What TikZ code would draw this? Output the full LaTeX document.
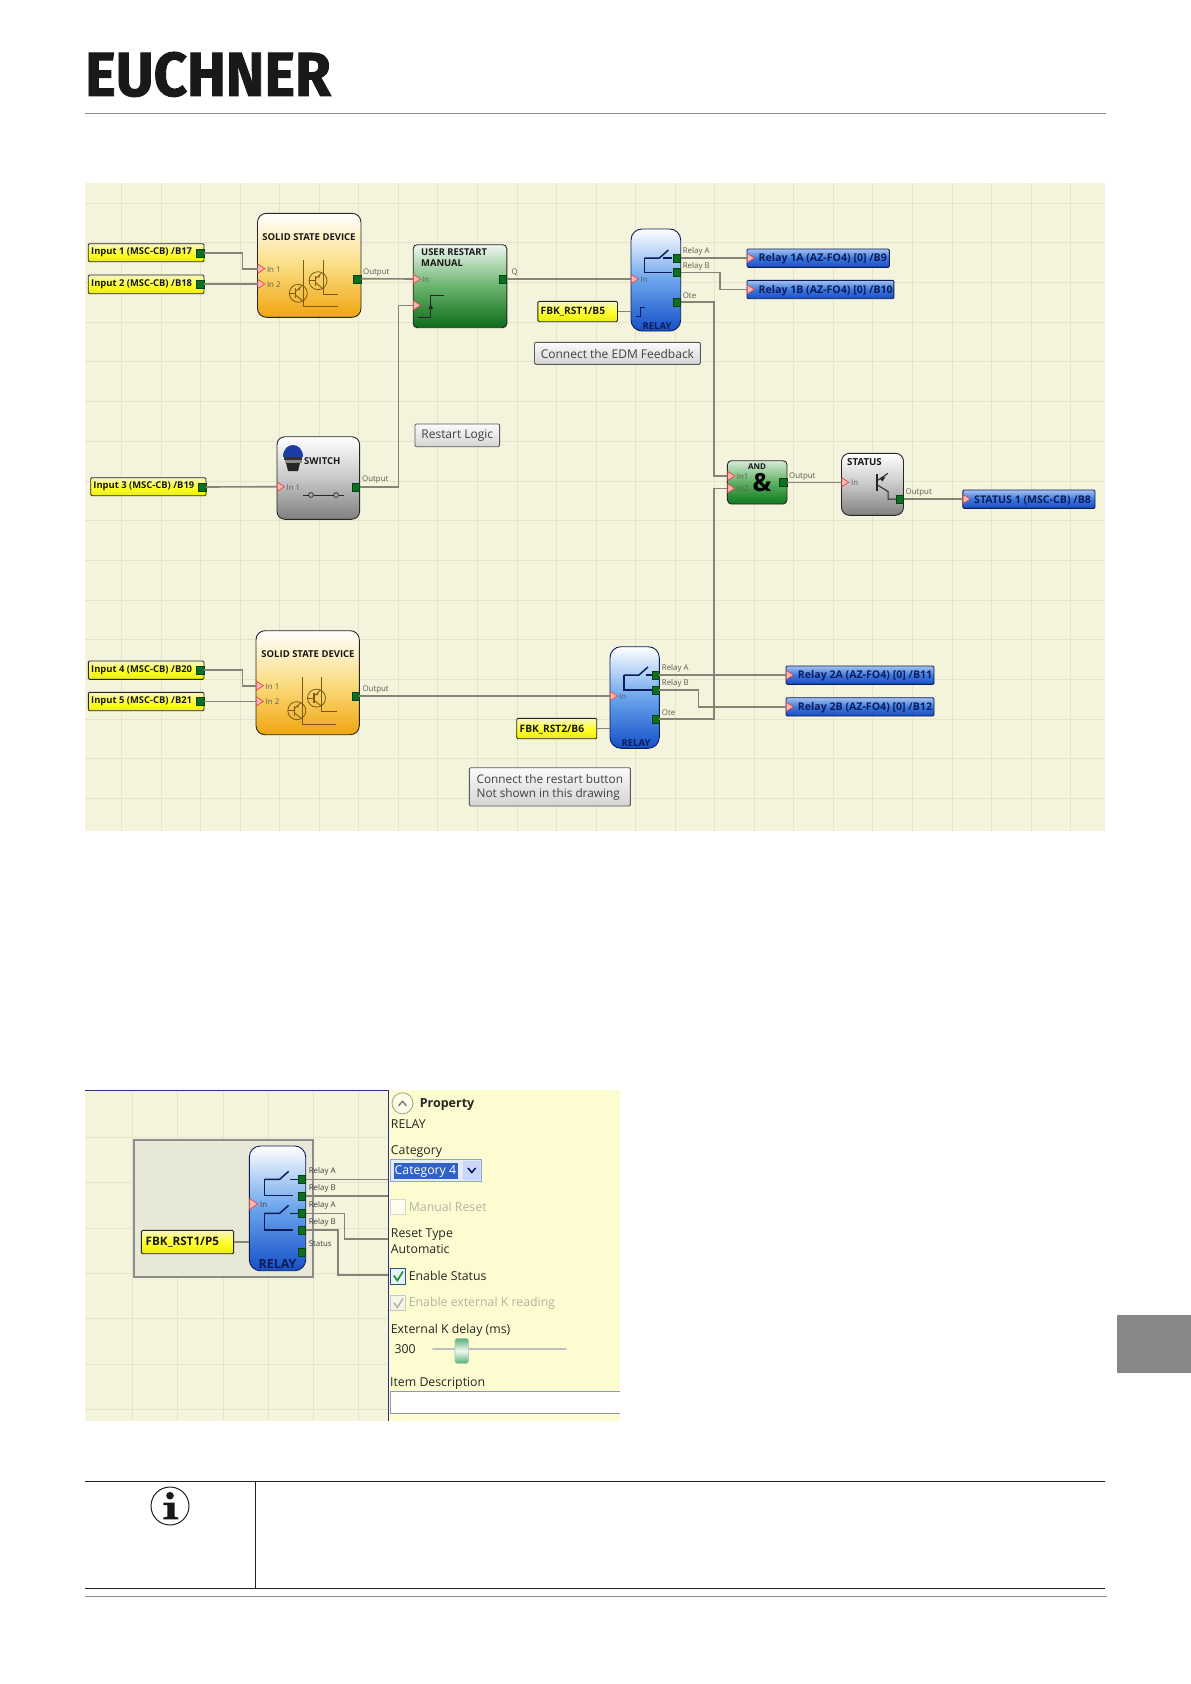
\documentclass[tikz,border=0pt]{standalone}
\usepackage{fontspec}
\usetikzlibrary{shapes.geometric}
\setmainfont{Open Sans}
\newfontfamily\logofont[BoldFeatures={FakeBold=1.5}]{Fira Sans}
\definecolor{panelbg}{HTML}{F4F3DC}
\definecolor{gridc}{HTML}{E4E3CE}
\definecolor{propbg}{HTML}{FDFBD0}
\definecolor{wirec}{HTML}{84847A}
\definecolor{portc}{HTML}{0E6E22}
\definecolor{navyc}{HTML}{0C1C58}
\definecolor{labc}{HTML}{5C5C52}
\definecolor{disc}{HTML}{B4B4A4}
\definecolor{framec}{HTML}{30307A}
\newcommand\hexc[1]{\definecolor{#1}{HTML}{#1}}
\hexc{F0A510}\hexc{FBDD82}\hexc{1650C8}\hexc{6AA4EC}\hexc{EEF6F0}\hexc{0C6C18}\hexc{6AB46C}\hexc{D6EBD8}\hexc{0C7A1E}\hexc{5EB062}
\hexc{808080}\hexc{C8C8C8}\hexc{F6F6C8}\hexc{ECEC10}\hexc{FFFF30}\hexc{A4C2F0}\hexc{1A4CC0}\hexc{3C78E0}\hexc{FBFBFB}\hexc{D4D4D4}
\hexc{E8E8D6}\hexc{E04848}\hexc{FFB8B8}\hexc{7C5A10}\hexc{1C3CA8}\hexc{A8A890}\hexc{FEFDE8}\hexc{8CA4D8}\hexc{E4ECFA}\hexc{2F62C4}
\hexc{C8D8F4}\hexc{D8D8D0}\hexc{FEFDEC}\hexc{30508C}\hexc{E8F4F0}\hexc{1E9A3C}\hexc{C8C8C0}\hexc{F6F6E8}\hexc{B4B4A8}\hexc{A8C8B0}
\hexc{58B078}\hexc{F4F8F4}\hexc{8C9CB0}
\newcounter{lblc}
\newcommand\bx[6][]{%
  \pgfmathsetmacro\bxcx{(#3+#5)/2}\pgfmathsetmacro\bxcy{(#4+#6)/2}%
  \pgfmathsetmacro\bxw{#5-#3}\pgfmathsetmacro\bxh{#6-#4}%
  \node[#1,minimum width=\bxw pt,minimum height=\bxh pt] (#2) at (\bxcx,\bxcy) {};}
\newcommand\lbl[4]{\stepcounter{lblc}\node[#1] (lbl\arabic{lblc}) at (#2,#3) {#4};}
\newcommand\zwire[3]{\draw[wire] (#1) -- (#1 -| #2) -- (#2 |- #3) -- (#3);}
\newcommand\hwire[2]{\draw[wire] (#1) -- (#1 -| #2);}
\newcommand\ttrans[2]{\begin{scope}[shift={(#1,#2)},symssd]
  \draw (0,0) circle (9);
  \draw[line width=1.2pt] (-2.5,-5) -- (-2.5,5);
  \draw (-9,0) -- (-2.5,0);
  \draw (-2.5,-2) -- (4,-8);
  \draw (-2.5,2) -- (5,8);
  \fill[fill opacity=1] (0,-4.2) -- (2.2,-5.4) -- (1,-2.6) -- cycle;
\end{scope}}
\newcommand\ssdsym[2]{\begin{scope}[shift={(#1,#2)}]
  \ttrans{40.8}{80}\ttrans{60.5}{67.4}
  \draw[symssd] (46.2,46.7) -- (46.2,93.4) -- (80.2,93.4);
  \draw[symssd] (65.5,46.7) -- (65.5,81) -- (80.5,81);
\end{scope}}
\newcommand\relsym[3]{\begin{scope}[shift={(#1,#2)}]
  \draw[symrel,line join=round] (0,0) -- (15,0) -- (24,-8);
  \draw[symrel] (0,0) -- (0,#3) -- (28,#3);
\end{scope}}
\tikzset{
  blockbase/.style={draw=black!85,line width=.9pt,rounded corners=6.5pt,inner sep=0pt},
  ssdbox/.style={blockbase,rounded corners=9pt,top color=white,bottom color=F0A510,middle color=FBDD82},
  relbox/.style={blockbase,rounded corners=11pt,draw=navyc,top color=white,bottom color=1650C8,middle color=6AA4EC},
  grnbox/.style={blockbase,rounded corners=4pt,top color=EEF6F0,bottom color=0C6C18,middle color=6AB46C},
  andbox/.style={blockbase,rounded corners=4pt,top color=D6EBD8,bottom color=0C7A1E,middle color=5EB062},
  graybox/.style={blockbase,rounded corners=8pt,top color=white,bottom color=808080,middle color=C8C8C8},
  inbox/.style={draw=black!85,line width=.9pt,rounded corners=1.2pt,inner sep=0pt,top color=F6F6C8,bottom color=ECEC10,middle color=FFFF30},
  outbox/.style={draw=navyc,line width=.9pt,rounded corners=1.2pt,inner sep=0pt,top color=A4C2F0,bottom color=1A4CC0,middle color=3C78E0},
  notebox/.style={draw=black!65,line width=.9pt,rounded corners=1.2pt,inner sep=0pt,top color=FBFBFB,bottom color=D4D4D4},
  selbox/.style={draw=black!45,line width=2.2pt,fill=E8E8D6,inner sep=0pt},
  wire/.style={draw=wirec,line width=1.6pt},
  oport/.style={draw=portc!60!black,line width=.4pt,fill=portc,inner sep=0pt,minimum width=7.5pt,minimum height=8pt},
  iport/.style={isosceles triangle,isosceles triangle apex angle=70,isosceles triangle stretches,draw=E04848,line width=.7pt,fill=FFB8B8,inner sep=0pt,minimum height=7pt,minimum width=9pt,anchor=west},
  symssd/.style={draw=7C5A10,line width=.8pt,fill=7C5A10,fill opacity=0},
  symrel/.style={draw=navyc,line width=1.5pt},
  symdark/.style={draw=black!85,line width=1pt},
  tiolab/.style={anchor=west,inner sep=0pt,yshift=-1pt,font=\fontsize{9.4}{11}\selectfont\bfseries,text=black!90},
  tfbk/.style={tiolab,font=\fontsize{10.2}{11}\selectfont\bfseries},
  toutlab/.style={anchor=west,inner sep=0pt,yshift=-1pt,font=\fontsize{10.6}{12}\selectfont\bfseries,text=navyc},
  ttitle/.style={inner sep=0pt,yshift=-1pt,font=\fontsize{9.5}{11}\selectfont\bfseries,text=black!90},
  tsmall/.style={anchor=west,inner sep=0pt,yshift=-.5pt,font=\fontsize{7.9}{9}\selectfont,text=labc},
  tnote/.style={inner sep=0pt,yshift=-.5pt,font=\fontsize{12}{14}\selectfont,text=black!75},
  tnoteb/.style={tnote,align=left},
  tprop/.style={anchor=west,inner sep=0pt,yshift=-1pt,font=\fontsize{12.3}{14}\selectfont,text=black!85},
  tdis/.style={tprop,text=disc},
}
\begin{document}
\begin{tikzpicture}[x=1pt,y=-1pt]
\useasboundingbox (0,0) rectangle (1191,1684);
% header and footer
\node[anchor=north west,inner sep=0pt,text=black!90] (logo) at (85,51.7) {\resizebox{245.7pt}{44pt}{\logofont\bfseries EUCHNER}};
\coordinate (hl) at (85,113.3); \coordinate (hr) at (1106,113.3);
\draw[black!45,line width=1pt] (hl) -- (hr);
% upper panel
\fill[panelbg] (85,183.3) rectangle (1105,830.7);
\begin{scope}
\clip (85,183.3) rectangle (1105,830.7);
\foreach \i in {0,...,25} \draw[gridc,line width=.8pt] (121.4+39.55*\i,183.3) -- (121.4+39.55*\i,830.7);
\foreach \i in {0,...,15} \draw[gridc,line width=.8pt] (85,203+39.7*\i) -- (1105,203+39.7*\i);
\end{scope}
% upper blocks
\bx[ssdbox]{ssda}{257.5}{213.3}{361}{317.3}
\bx[grnbox]{usr}{413.2}{244.7}{506.8}{327.7}
\bx[relbox]{rela}{631}{229}{680.7}{331}
\bx[graybox]{swt}{277}{436.7}{359.6}{519.3}
\bx[andbox]{andg}{727.4}{460.7}{787}{504}
\bx[graybox]{stat}{841.5}{453.3}{903.5}{515.3}
\bx[ssdbox]{ssdb}{256}{630.7}{359.3}{734.7}
\bx[relbox]{relb}{610}{646.7}{659.3}{748.3}
\bx[inbox]{ina}{88.2}{243.7}{204}{261.7}
\bx[inbox]{inb}{88.2}{275}{204}{293.7}
\bx[inbox]{inc}{90.7}{477.7}{206}{495.7}
\bx[inbox]{ind}{88.3}{661}{204}{679.3}
\bx[inbox]{ine}{88.3}{692.3}{204}{710.7}
\bx[inbox]{fbka}{537.9}{301.3}{617.5}{321.7}
\bx[inbox]{fbkb}{516.7}{718.3}{596.7}{738.7}
\bx[outbox]{oa}{747}{249}{889.3}{267.3}
\bx[outbox]{ob}{747}{280.3}{893.9}{298.7}
\bx[outbox]{oc}{786}{666}{934}{684.3}
\bx[outbox]{od}{786}{697.7}{934}{716}
\bx[outbox]{oe}{962.8}{490}{1095}{508.3}
\bx[notebox]{nedm}{534.5}{342.3}{700.3}{364.3}
\bx[notebox]{nres}{415}{424}{499.6}{446.7}
\bx[notebox]{nbtn}{469.3}{767.7}{630.3}{806}
% block symbols
\ssdsym{257.5}{213.3}
\ssdsym{256}{630.7}
\draw[symdark] (417.5,317.3) -- (430.7,317.3) -- (430.7,295.7) -- (444.3,295.7);
\fill[black!85] (430.7,304) -- (433,309) -- (428.4,309) -- cycle;
\relsym{644.4}{258}{14.3}
\draw[symrel] (663,258) -- (672,258);
\relsym{624}{675}{15}
\draw[symrel] (646,675) -- (652,675);
\draw[symdark,draw=navyc] (636,316) -- (640.5,316) -- (640.5,307) -- (645,307);
% switch details
\fill[1C3CA8] (283.4,456.7) .. controls (283.4,441) and (302.6,441) .. (302.6,456.7) -- cycle;
\fill[black!80] (283.6,456.7) rectangle (302.4,460);
\fill[black!45] (284.5,460) rectangle (301.5,463);
\fill[black!85] (286,463) -- (300,463) -- (298,471) -- (288,471) -- cycle;
\draw[symdark,line width=.7pt] (303,495) -- (308.7,495) (313.5,495) -- (333.5,495) (338.5,495) -- (344,495);
\draw[black!85,line width=.7pt] (311,495) circle (2.4) (336,495) circle (2.4);
% status symbol
\draw[black!85,line width=1.6pt] (876.7,474) -- (876.7,490.7);
\draw[black!85,line width=1pt] (876.7,481) -- (888,473.3);
\fill[black!85] (880,478.8) -- (885.5,476.5) -- (882.5,481.5) -- cycle;
\draw[black!85,line width=1pt] (876.7,484.5) -- (888,491.5) -- (888,499) -- (896,499);
\node[inner sep=0pt,font=\fontsize{25}{25}\selectfont\bfseries,text=black] (amp) at (762,483) {\&};
% titles
\lbl{ttitle}{309}{235.7}{SOLID STATE DEVICE}
\lbl{ttitle}{308}{652.7}{SOLID STATE DEVICE}
\lbl{ttitle,anchor=west}{304}{460}{SWITCH}
\lbl{ttitle,anchor=north west,align=left,font=\fontsize{9.4}{11.8}\selectfont\bfseries}{421}{247}{USER RESTART\\MANUAL}
\lbl{ttitle,text=navyc}{657}{325}{RELAY}
\lbl{ttitle,text=navyc}{636}{741.7}{RELAY}
\lbl{ttitle,font=\fontsize{8}{9}\selectfont\bfseries}{757}{466}{AND}
\lbl{ttitle,anchor=west,font=\fontsize{9.7}{11}\selectfont\bfseries}{847}{461}{STATUS}
% input / output texts
\lbl{tiolab}{91}{251.7}{Input 1 (MSC-CB) /B17}
\lbl{tiolab}{91}{283.3}{Input 2 (MSC-CB) /B18}
\lbl{tiolab}{93.2}{485.7}{Input 3 (MSC-CB) /B19}
\lbl{tiolab}{91}{669}{Input 4 (MSC-CB) /B20}
\lbl{tiolab}{91}{700.3}{Input 5 (MSC-CB) /B21}
\lbl{tfbk}{540.5}{311}{FBK\_RST1/B5}
\lbl{tfbk}{519.5}{728.5}{FBK\_RST2/B6}
\lbl{toutlab}{758.4}{258}{Relay 1A (AZ-FO4) [0] /B9}
\lbl{toutlab}{758.4}{289.5}{Relay 1B (AZ-FO4) [0] /B10}
\lbl{toutlab}{797.7}{675}{Relay 2A (AZ-FO4) [0] /B11}
\lbl{toutlab}{797.7}{706.7}{Relay 2B (AZ-FO4) [0] /B12}
\lbl{toutlab}{974}{499}{STATUS 1 (MSC-CB) /B8}
\lbl{tnote}{617.4}{353.3}{Connect the EDM Feedback}
\lbl{tnote}{457.3}{435.3}{Restart Logic}
\lbl{tnoteb,font=\fontsize{11.8}{14.5}\selectfont}{549.8}{786.8}{Connect the restart button\\Not shown in this drawing}
% small labels
\lbl{tsmall}{266.8}{268.7}{In 1}\lbl{tsmall}{266.8}{284}{In 2}
\lbl{tsmall}{363}{272.3}{Output}
\lbl{tsmall}{422}{279}{In}
\lbl{tsmall}{511.4}{272.3}{Q}
\lbl{tsmall}{640.5}{279}{In}
\lbl{tsmall}{682.6}{251}{Relay A}\lbl{tsmall}{682.6}{265.7}{Relay B}\lbl{tsmall}{682.6}{295}{Ote}
\lbl{tsmall}{286.4}{486.7}{In 1}\lbl{tsmall}{362}{479.3}{Output}
\lbl{tsmall}{736.6}{475.7}{In1}\lbl{tsmall}{736.6}{488.5}{In2}
\lbl{tsmall}{789}{475.7}{Output}
\lbl{tsmall}{851}{482.3}{In}\lbl{tsmall}{905.4}{492.3}{Output}
\lbl{tsmall}{265.5}{685.7}{In 1}\lbl{tsmall}{265.5}{701.3}{In 2}
\lbl{tsmall}{362.3}{689.3}{Output}
\lbl{tsmall}{619}{696.5}{In}
\lbl{tsmall}{661.7}{668.3}{Relay A}\lbl{tsmall}{661.7}{682.7}{Relay B}\lbl{tsmall}{661.7}{712}{Ote}
% ports
\node[oport] (pa) at (200,252.7) {};
\node[oport] (pb) at (200,284) {};
\node[oport] (pc) at (202,487) {};
\node[oport] (pd) at (200,670) {};
\node[oport] (pe) at (200,701.3) {};
\node[oport] (ssdao) at (357.2,278.7) {};
\node[oport] (usro) at (502.9,279) {};
\node[oport] (swto) at (355.8,486.7) {};
\node[oport] (relaa) at (676.7,258) {};
\node[oport] (relab) at (676.7,272.3) {};
\node[oport] (relac) at (676.7,302) {};
\node[oport] (ando) at (783,482.3) {};
\node[oport] (stato) at (899.7,499) {};
\node[oport] (ssdbo) at (355.5,696) {};
\node[oport] (relba) at (655.5,675) {};
\node[oport] (relbb) at (655.5,690) {};
\node[oport] (relbc) at (655.5,719) {};
\node[iport] (ssdai) at (257.5,268.7) {};
\node[iport] (ssdaj) at (257.5,284) {};
\node[iport] (usri) at (413.2,279) {};
\node[iport] (usrj) at (413.2,305.3) {};
\node[iport] (relai) at (631,279) {};
\node[iport] (swti) at (277,486.7) {};
\node[iport] (andi) at (727.4,476) {};
\node[iport] (andj) at (727.4,488.3) {};
\node[iport] (stati) at (841.5,482.3) {};
\node[iport] (ssdbi) at (256,685.7) {};
\node[iport] (ssdbj) at (256,701.3) {};
\node[iport] (relbi) at (610,696) {};
\node[iport] (ooa) at (747,258) {};
\node[iport] (oob) at (747,289.4) {};
\node[iport] (ooc) at (786,675) {};
\node[iport] (ood) at (786,706.8) {};
\node[iport] (ooe) at (962.8,499) {};
% wires
\coordinate (ba) at (242.5,0);
\coordinate (bb) at (242.3,0);
\coordinate (bc) at (398.6,0);
\coordinate (bd) at (719.8,0);
\coordinate (be) at (714,0);
\coordinate (bf) at (698.3,0);
\zwire{pa.east}{ba}{ssdai.west}
\draw[wire] (pb.east) -- (ssdaj.west);
\draw[wire] (ssdao.east) -- (usri.west);
\draw[wire] (usro.east) -- (relai.west);
\draw[wire] (pc.east) -- (swti.west);
\zwire{swto.east}{bc}{usrj.west}
\hwire{fbka.east}{rela.west}
\draw[wire] (relaa.east) -- (ooa.west);
\zwire{relab.east}{bd}{oob.west}
\zwire{relac.east}{be}{andi.west}
\draw[wire] (ando.east) -- (stati.west);
\draw[wire] (stato.east) -- (ooe.west);
\zwire{pd.east}{bb}{ssdbi.west}
\draw[wire] (pe.east) -- (ssdbj.west);
\draw[wire] (ssdbo.east) -- (relbi.west);
\hwire{fbkb.east}{relb.west}
\draw[wire] (relba.east) -- (ooc.west);
\zwire{relbb.east}{bf}{ood.west}
\zwire{relbc.east}{be}{andj.west}
% lower panel
\fill[panelbg] (85,1090) rectangle (388.2,1420.7);
\fill[propbg] (388.2,1090) rectangle (620,1420.7);
\begin{scope}
\clip (85,1090) rectangle (388.2,1420.7);
\foreach \i in {0,...,5} \draw[gridc,line width=.8pt] (132.5+45.2*\i,1090) -- (132.5+45.2*\i,1420.7);
\foreach \i in {0,...,6} \draw[gridc,line width=.8pt] (85,1137.3+45.35*\i) -- (388.2,1137.3+45.35*\i);
\end{scope}
\bx[selbox]{sel}{134.3}{1140}{313.2}{1276.7}
\bx[relbox]{relc}{249.3}{1146}{305.7}{1270.7}
\bx[inbox]{fbkc}{141.4}{1230.3}{233.6}{1253.7}
\draw[framec,line width=1pt] (85,1090) -- (388.2,1090);
\draw[framec,line width=1.2pt] (388.2,1090) -- (388.2,1420.7);
\relsym{264.7}{1179.3}{16.4}
\relsym{264.7}{1213.3}{16.7}
\draw[symrel] (290,1179.3) -- (298,1179.3) (290,1213.3) -- (298,1213.3);
\lbl{ttitle,text=navyc,font=\fontsize{12.5}{14}\selectfont\bfseries}{277.5}{1262.7}{RELAY}
\lbl{tiolab,font=\fontsize{11.7}{13}\selectfont\bfseries}{145.5}{1241}{FBK\_RST1/P5}
\lbl{tsmall,text=black!75}{308.6}{1170.7}{Relay A}
\lbl{tsmall,text=black!75}{308.6}{1188.3}{Relay B}
\lbl{tsmall,text=black!75}{308.6}{1204.7}{Relay A}
\lbl{tsmall,text=black!75}{308.6}{1221.7}{Relay B}
\lbl{tsmall,text=black!75}{308.6}{1243}{Status}
\lbl{tsmall,text=black!75}{260}{1204}{In}
\node[iport,minimum height=8pt,minimum width=11pt] (relci) at (249.3,1204) {};
\node[oport] (rca) at (301.9,1179.3) {};
\node[oport] (rcb) at (301.9,1195.7) {};
\node[oport] (rcc) at (301.9,1213.3) {};
\node[oport] (rcd) at (301.9,1230) {};
\node[oport] (rce) at (301.9,1252) {};
\coordinate (ea) at (388,1179.3);
\coordinate (eb) at (388,1195.7);
\coordinate (ec) at (388,1238.7);
\coordinate (ed) at (388,1274.7);
\coordinate (bg) at (344.3,0);
\coordinate (bh) at (338.2,0);
\draw[wire] (rca.east) -- (ea);
\draw[wire] (rcb.east) -- (eb);
\zwire{rcc.east}{bg}{ec}
\zwire{rcd.east}{bh}{ed}
\hwire{fbkc.east}{relc.west}
% property pane
\node[circle,draw=A8A890,fill=FEFDE8,line width=.9pt,inner sep=0pt,minimum size=21pt] (circ) at (402.5,1103.3) {};
\draw[black!55,line width=1.3pt] (398.5,1105.8) -- (402.5,1101.3) -- (406.5,1105.8);
\lbl{tprop,font=\fontsize{12.5}{14}\selectfont\bfseries}{419.6}{1103.3}{Property}
\lbl{tprop}{390.7}{1123.3}{RELAY}
\lbl{tprop}{390.7}{1150.7}{Category}
\bx[draw=8CA4D8,fill=E4ECFA,line width=.9pt,inner sep=0pt]{combo}{390.7}{1159.3}{481.8}{1181.7}
\bx[fill=2F62C4,inner sep=0pt]{combs}{393.6}{1163}{457.9}{1178.7}
\bx[fill=C8D8F4,rounded corners=1pt,inner sep=0pt]{combb}{462.9}{1161}{480.7}{1180}
\draw[black!60!blue,line width=1.4pt] (468,1168) -- (471.8,1172.5) -- (475.6,1168);
\lbl{tprop,text=white}{394.5}{1170.3}{Category 4}
\bx[draw=D8D8D0,fill=FEFDEC,line width=.9pt,inner sep=0pt]{cka}{390.7}{1199}{405.7}{1214.3}
\lbl{tdis}{408.6}{1206.3}{Manual Reset}
\lbl{tprop}{390.7}{1233.3}{Reset Type}
\lbl{tprop}{390.7}{1248.3}{Automatic}
\bx[draw=30508C,fill=E8F4F0,line width=1pt,inner sep=0pt]{ckb}{390.7}{1268.3}{405.7}{1284}
\draw[1E9A3C,line width=1.7pt] (393.8,1275.5) -- (397.3,1280.5) -- (403,1271.5);
\lbl{tprop}{408.6}{1275.3}{Enable Status}
\bx[draw=C8C8C0,fill=F6F6E8,line width=.9pt,inner sep=0pt]{ckc}{390.7}{1295}{405.7}{1310.7}
\draw[B4B4A8,line width=1.5pt] (393.8,1302.5) -- (397.3,1307.5) -- (403,1298.5);
\lbl{tdis}{408.6}{1302.3}{Enable external K reading}
\lbl{tprop}{390.7}{1329.3}{External K delay (ms)}
\lbl{tprop}{394.3}{1348.3}{300}
\coordinate (sla) at (432.9,1349); \coordinate (slb) at (565.7,1349);
\draw[black!25,line width=1.4pt,line cap=round] (sla) -- (slb);
\bx[draw=A8C8B0,top color=58B078,bottom color=58B078,middle color=F4F8F4,line width=.6pt,rounded corners=1.8pt,inner sep=0pt]{thumb}{455}{1338.3}{468.6}{1363.3}
\lbl{tprop}{390}{1382.3}{Item Description}
\fill[white] (390,1391) rectangle (620,1413.3);
\draw[8C9CB0,line width=.8pt] (620,1391) -- (390,1391) -- (390,1413.3) -- (620,1413.3);
% side tab
\fill[black!47] (1117,1314.5) rectangle (1191,1372.5);
% note table
\coordinate (ta) at (85,1481.3); \coordinate (tb) at (1105,1481.3);
\coordinate (tc) at (85,1588.3); \coordinate (td) at (1105,1588.3);
\coordinate (te) at (255.3,1481.3); \coordinate (tf) at (255.3,1588.3);
\coordinate (tg) at (85,1596.3); \coordinate (th) at (1107,1596.3);
\draw[black!88,line width=1pt] (ta) -- (tb) (tc) -- (td) (te) -- (tf);
\draw[black!45,line width=1pt] (tg) -- (th);
\node[circle,draw=black!88,line width=1pt,inner sep=0pt,minimum size=38pt] (infoc) at (170,1506) {};
\fill[black!90] (170,1495.7) circle (3.8);
\fill[black!90] (163.3,1502.7) -- (174.7,1502.7) -- (174.7,1516.7) -- (178.3,1517.5) -- (178.3,1519.3) -- (163.3,1519.3) -- (163.3,1517.5) -- (167.3,1516.7) -- (167.3,1505) -- (163.3,1505) -- cycle;
\end{tikzpicture}
\end{document}
